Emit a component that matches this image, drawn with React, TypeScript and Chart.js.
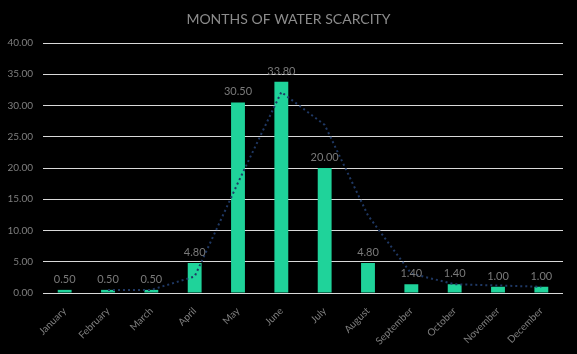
import React, { useEffect, useRef } from "react";
import { Chart, registerables } from "chart.js";

Chart.register(...registerables);

const TITLE = "MONTHS OF WATER SCARCITY";
const months = ["January", "February", "March", "April", "May", "June", "July", "August", "September", "October", "November", "December"];
const scarcity = [0.5, 0.5, 0.5, 4.8, 30.5, 33.8, 20.0, 4.8, 1.4, 1.4, 1.0, 1.0];
const trend = [null, 0.5, 0.5, 2.65, 17.65, 32.15, 26.9, 12.4, 3.1, 1.4, 1.2, 1.0];

const FONT = "Lato, 'Open Sans', sans-serif";

const labelPlugin = {
  id: "barLabels",
  afterDatasetsDraw(chart: any) {
    const ctx = chart.ctx;
    const meta = chart.getDatasetMeta(0);
    ctx.save();
    ctx.fillStyle = "#7a7a7a";
    ctx.font = `11px ${FONT}`;
    ctx.textAlign = "center";
    ctx.textBaseline = "bottom";
    meta.data.forEach((bar: any, i: number) => {
      ctx.fillText(scarcity[i].toFixed(2), bar.x, bar.y - 5);
    });
    ctx.restore();
  },
};

const titlePlugin = {
  id: "customTitle",
  afterDraw(chart: any) {
    const ctx = chart.ctx;
    ctx.save();
    ctx.fillStyle = "#8c8c8c";
    ctx.font = `14px ${FONT}`;
    ctx.textAlign = "center";
    ctx.textBaseline = "middle";
    ctx.fillText(TITLE, chart.width / 2, 19);
    ctx.restore();
  },
};

export default function App() {
  const ref = useRef<HTMLCanvasElement>(null);
  useEffect(() => {
    document.body.style.margin = "0";
    document.body.style.background = "#000";
    const chart = new Chart(ref.current!, {
      type: "bar",
      data: {
        labels: months,
        datasets: [
          {
            type: "bar",
            data: scarcity,
            backgroundColor: "#1fd39a",
            barPercentage: 0.32,
            categoryPercentage: 1,
            order: 2,
          },
          {
            type: "line",
            data: trend as any,
            borderColor: "#1f3864",
            borderWidth: 2,
            borderDash: [2, 3],
            pointRadius: 0,
            tension: 0,
            order: 1,
          } as any,
        ],
      },
      options: {
        animation: false,
        responsive: false,
        maintainAspectRatio: false,
        layout: { padding: { top: 43, right: 14, left: 0, bottom: 0 } },
        plugins: { legend: { display: false }, tooltip: { enabled: false }, title: { display: false } },
        scales: {
          x: {
            grid: { display: false },
            border: { display: false },
            ticks: {
              color: "#7f7f7f",
              font: { family: FONT, size: 10 },
              minRotation: 45,
              maxRotation: 45,
              padding: 4,
            },
            afterFit(scale: any) {
              scale.height = 61;
            },
          },
          y: {
            min: 0,
            max: 40,
            border: { display: false },
            grid: { color: "#d9d9d9", lineWidth: 1, drawTicks: false },
            ticks: {
              stepSize: 5,
              color: "#7f7f7f",
              font: { family: FONT, size: 10 },
              padding: 10,
              callback: (v: any) => Number(v).toFixed(2),
            },
            afterFit(scale: any) {
              scale.width = 43;
            },
          },
        },
      },
      plugins: [labelPlugin, titlePlugin],
    });
    return () => chart.destroy();
  }, []);
  return (
    <div style={{ width: 577, height: 354, background: "#000" }}>
      <canvas ref={ref} width={577} height={354} />
    </div>
  );
}
